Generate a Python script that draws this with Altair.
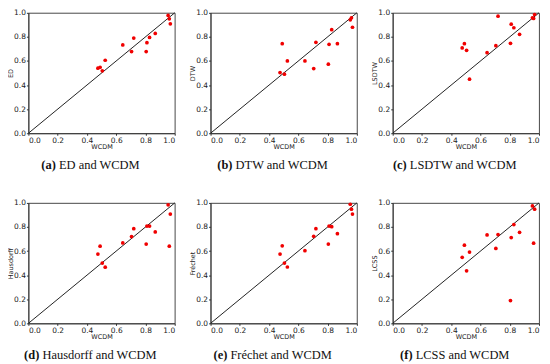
import altair as alt
import pandas as pd

# WCDM similarity values (x axis, shared across panels)
wcdm = [0.475, 0.49, 0.505, 0.525, 0.645, 0.705, 0.72, 0.805, 0.81, 0.828, 0.867, 0.955, 0.963, 0.970]

# Other measures (y axis)
ed = [0.540, 0.548, 0.518, 0.606, 0.733, 0.678, 0.790, 0.678, 0.752, 0.796, 0.829, 0.978, 0.950, 0.909]
dtw = [0.504, 0.744, 0.490, 0.600, 0.600, 0.537, 0.755, 0.573, 0.738, 0.860, 0.744, 0.942, 0.959, 0.880]
lsdtw = [0.708, 0.744, 0.689, 0.449, 0.669, 0.727, 0.972, 0.747, 0.906, 0.876, 0.821, 0.959, 0.953, 0.986]
hausdorff = [0.575, 0.641, 0.501, 0.466, 0.668, 0.721, 0.786, 0.658, 0.808, 0.808, 0.759, 0.984, 0.641, 0.907]
frechet = [0.575, 0.644, 0.501, 0.468, 0.603, 0.723, 0.786, 0.658, 0.808, 0.803, 0.745, 0.989, 0.948, 0.907]
lcss = [0.548, 0.649, 0.436, 0.592, 0.734, 0.622, 0.737, 0.189, 0.712, 0.820, 0.756, 0.975, 0.666, 0.948]

ticks = [0.0, 0.2, 0.4, 0.6, 0.8, 1.0]
diag_ends = [0.0, 1.0]

panels = [
    ("ED", ed, "(a)", "ED and WCDM"),
    ("DTW", dtw, "(b)", "DTW and WCDM"),
    ("LSDTW", lsdtw, "(c)", "LSDTW and WCDM"),
    ("Hausdorff", hausdorff, "(d)", "Hausdorff and WCDM"),
    ("Fréchet", frechet, "(e)", "Fréchet and WCDM"),
    ("LCSS", lcss, "(f)", "LCSS and WCDM"),
]

W, H = 147, 121
CAP_FONT = "Liberation Serif"
CAP_SIZE = 12.5

# approximate Times/Liberation Serif advance widths (per 1000 em)
REG = {" ": 250, "(": 333, ")": 333, "a": 444, "b": 500, "c": 444, "d": 500, "e": 444,
       "f": 333, "h": 500, "n": 500, "r": 333, "s": 389, "t": 278, "u": 500, "é": 444,
       "o": 500, "A": 722, "C": 667, "D": 722, "E": 611, "F": 556, "H": 722, "L": 611,
       "M": 889, "S": 556, "T": 611, "W": 944}
BOLD = {"(": 333, ")": 333, "a": 500, "b": 556, "c": 444, "d": 556, "e": 444, "f": 333}


def text_w(s, table):
    return sum(table.get(ch, 500) for ch in s) * CAP_SIZE / 1000.0


def panel(ytitle, vals, letter, rest):
    df = pd.DataFrame({"WCDM": wcdm, "v": vals})
    ddf = pd.DataFrame({"WCDM": diag_ends, "v": diag_ends})
    xs = alt.Scale(domain=[0, 1], nice=False)
    ax = alt.Axis(values=ticks, format=".1f", title="WCDM")
    ay = alt.Axis(values=ticks, format=".1f", title=ytitle)
    diag = alt.Chart(ddf).mark_line(color="#222", strokeWidth=1).encode(
        x=alt.X("WCDM:Q", scale=xs, axis=ax),
        y=alt.Y("v:Q", scale=xs, axis=ay),
    )
    pts = alt.Chart(df).mark_circle(size=14, color="#f00000", opacity=1).encode(
        x=alt.X("WCDM:Q", scale=xs, axis=ax),
        y=alt.Y("v:Q", scale=xs, axis=ay),
    )
    wb = text_w(letter, BOLD)
    sp = text_w(" ", REG)
    wr = text_w(rest, REG)
    center = W / 2 - 11
    start = center - (wb + sp + wr) / 2
    cy = H + 32
    c1 = alt.Chart(pd.DataFrame({"t": [letter]})).mark_text(
        font=CAP_FONT, fontSize=CAP_SIZE, fontWeight="bold", align="right",
        baseline="middle", color="#111"
    ).encode(text="t:N", x=alt.value(start + wb), y=alt.value(cy))
    c2 = alt.Chart(pd.DataFrame({"t": [rest]})).mark_text(
        font=CAP_FONT, fontSize=CAP_SIZE, align="left",
        baseline="middle", color="#111"
    ).encode(text="t:N", x=alt.value(start + wb + sp), y=alt.value(cy))
    return alt.layer(diag, pts, c1, c2).properties(width=W, height=H)


charts = [panel(*p) for p in panels]
chart = alt.concat(
    *charts, columns=3, spacing={"row": 70, "column": 36}, bounds="flush"
).properties(
    padding={"left": -1.5, "top": -1, "right": 0, "bottom": 0}
).configure_view(
    stroke="#333", strokeWidth=0.9
).configure_axis(
    grid=False, domainColor="#333", domainWidth=0.9, tickColor="#333", tickSize=2,
    labelFont="DejaVu Sans", labelFontSize=7.5, labelColor="#222", labelPadding=1,
    titleFont="DejaVu Sans", titleFontSize=6.5, titleFontWeight="normal", titleColor="#222",
    titlePadding=0
).configure_axisY(titlePadding=0, labelPadding=1)

chart.save("out.html", embed_options={"renderer": "svg", "actions": False})
